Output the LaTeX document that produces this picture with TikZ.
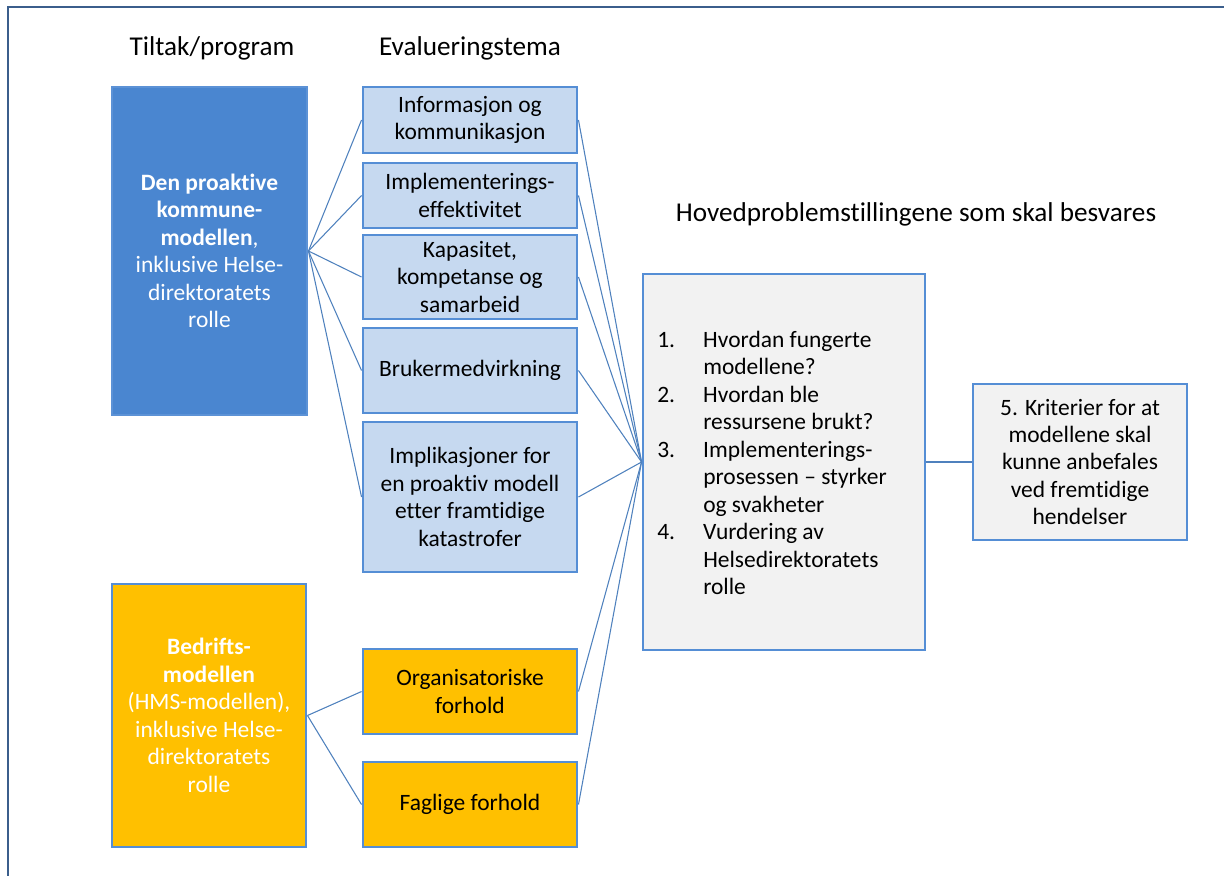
\documentclass[tikz,border=0pt]{standalone}
\usepackage{fontspec}
\setmainfont[Ligatures=NoCommon]{Carlito}
\definecolor{frameblue}{RGB}{59,94,140}
\definecolor{progblue}{RGB}{74,134,208}
\definecolor{progborder}{RGB}{92,146,214}
\definecolor{lightblue}{RGB}{198,217,240}
\definecolor{boxborder}{RGB}{85,142,213}
\definecolor{orangefill}{RGB}{255,192,0}
\definecolor{grayfill}{RGB}{242,242,242}
\definecolor{connblue}{RGB}{79,129,189}
\begin{document}
\begin{tikzpicture}[x=0.75pt,y=-0.75pt,
  every node/.style={font=\fontsize{17.6}{20.6}\selectfont},
  base/.style={rectangle,line width=2.2pt,inner sep=0pt,align=center},
  progbox/.style={base,fill=progblue,draw=progborder,text=white},
  orangeprog/.style={base,fill=orangefill,draw=boxborder,text=white},
  themebox/.style={base,fill=lightblue,draw=boxborder,minimum width=160.5pt},
  orangebox/.style={base,fill=orangefill,draw=boxborder,minimum width=160.5pt},
  graybox/.style={base,fill=grayfill,draw=boxborder},
  heading/.style={font=\fontsize{20.4}{24}\selectfont},
  conn/.style={draw=connblue,line width=0.8pt}]
\useasboundingbox (0,0) rectangle (1224,875);
% frame
\coordinate (fbl) at (8,876);
\coordinate (ftl) at (8,7);
\coordinate (ftr) at (1225,7);
\draw[frameblue,line width=1.6pt] (fbl) -- (ftl) -- (ftr);

% headings
\node[heading] (h1) at (212,48) {Tiltak/program};
\node[heading] (h2) at (470,48) {Evalueringstema};
\node[heading] (h3) at (916,214) {Hovedproblemstillingene som skal besvares};

% program boxes
\node[progbox,minimum width=146.25pt,minimum height=246pt] (prog1) at (209.5,251)
  {\textbf{Den proaktive}\\\textbf{kommune-}\\\textbf{modellen},\\inklusive Helse-\\direktoratets\\rolle};
\node[orangeprog,minimum width=145.5pt,minimum height=197.25pt] (prog2) at (209,715.5)
  {\textbf{Bedrifts-}\\\textbf{modellen}\\(HMS-modellen),\\inklusive Helse-\\direktoratets\\rolle};

% theme boxes
\node[themebox,minimum height=49.5pt] (info) at (470,120) {Informasjon og\\kommunikasjon};
\node[themebox,minimum height=48.75pt] (impl) at (470,195.5) {Implementerings-\\effektivitet};
\node[themebox,minimum height=63pt] (kap) at (470,277) {Kapasitet,\\kompetanse og\\samarbeid};
\node[themebox,minimum height=63.75pt] (bruk) at (470,370.5) {Brukermedvirkning};
\node[themebox,minimum height=112.5pt] (implik) at (470,497) {Implikasjoner for\\en proaktiv modell\\etter framtidige\\katastrofer};
\node[orangebox,minimum height=63.75pt] (org) at (470,691.5) {Organisatoriske\\forhold};
\node[orangebox,minimum height=63.75pt] (fag) at (470,804.5) {Faglige forhold};

% main question box
\node[graybox,minimum width=211.5pt,minimum height=282pt] (main) at (784,462) {};
\node[anchor=west,align=left,inner sep=0pt] (maintext) at (657,463)
  {\makebox[34.5pt][l]{1.}Hvordan fungerte\\
   \hspace*{34.5pt}modellene?\\
   \makebox[34.5pt][l]{2.}Hvordan ble\\
   \hspace*{34.5pt}ressursene brukt?\\
   \makebox[34.5pt][l]{3.}Implementerings-\\
   \hspace*{34.5pt}prosessen -- styrker\\
   \hspace*{34.5pt}og svakheter\\
   \makebox[34.5pt][l]{4.}Vurdering av\\
   \hspace*{34.5pt}Helsedirektoratets\\
   \hspace*{34.5pt}rolle};

% criteria box
\node[graybox,minimum width=160.5pt,minimum height=117pt] (crit) at (1080,462)
  {5. Kriterier for at\\modellene skal\\kunne anbefales\\ved fremtidige\\hendelser};

% connectors
\foreach \t in {info,impl,kap,bruk,implik}{
  \draw[conn] (prog1.east) -- (\t.west);
  \draw[conn] (\t.east) -- (main.west);
}
\foreach \t in {org,fag}{
  \draw[conn] (prog2.east) -- (\t.west);
  \draw[conn] (\t.east) -- (main.west);
}
\draw[conn] (main.east) -- (crit.west);
\end{tikzpicture}
\end{document}
